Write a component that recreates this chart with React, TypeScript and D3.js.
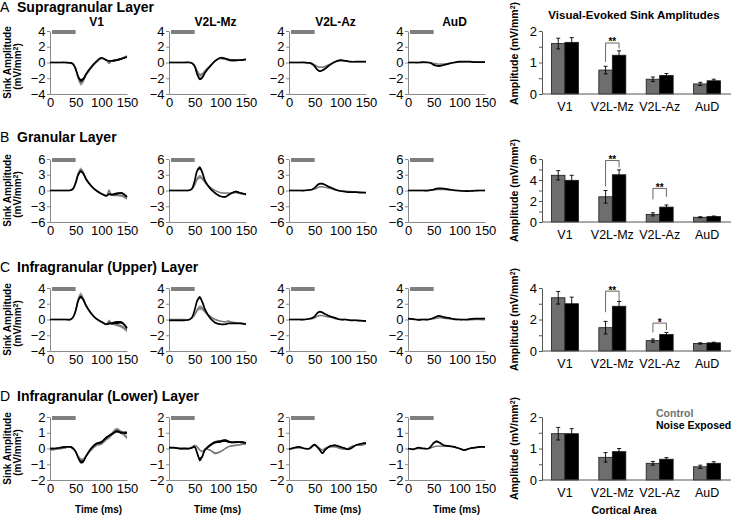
import React, { useEffect, useRef } from "react";
import * as d3 from "d3";

const times = [0, 10, 20, 30, 40, 45, 50, 55, 60, 65, 70, 80, 90, 100, 110, 115, 120, 130, 140, 150];
const areas = ["V1", "V2L-Mz", "V2L-Az", "AuD"];
const layerLetters = ["A", "B", "C", "D"];
const layerNames = ["Supragranular Layer", "Granular Layer", "Infragranular (Upper) Layer", "Infragranular (Lower) Layer"];
const traceTicks = [[-4, -2, 0, 2, 4], [-6, -3, 0, 3, 6], [-4, -2, 0, 2, 4], [-2, -1, 0, 1, 2]];
const timeTicks = [0, 50, 100, 150];
const stimulusWindow = [0, 50];

// supragranular, one array per area (V1, V2L-Mz, V2L-Az, AuD)
const supraControl = [
  [0, 0, 0, 0, -0.05, -0.2, -0.9, -2.0, -2.6, -2.3, -1.6, -0.7, 0.0, 0.5, 0.3, -0.1, 0.2, 0.3, 0.5, 0.8],
  [0, 0, 0, 0, 0, -0.1, -0.4, -1.1, -1.6, -1.5, -1.1, -0.4, 0.2, 0.5, 0.4, 0.3, 0.2, 0.2, 0.3, 0.4],
  [0, 0, 0, 0, -0.05, -0.1, -0.3, -0.5, -0.6, -0.6, -0.5, -0.2, 0.1, 0.2, 0.2, 0.15, 0.1, 0.1, 0.1, 0.1],
  [0, 0, 0, 0, 0, -0.05, -0.1, -0.15, -0.2, -0.2, -0.2, -0.1, 0, 0.05, 0.1, 0.1, 0.1, 0.05, 0.05, 0.05],
];
const supraControlSem = [
  [0.03, 0.03, 0.03, 0.03, 0.05, 0.08, 0.2, 0.3, 0.35, 0.3, 0.25, 0.15, 0.1, 0.1, 0.1, 0.12, 0.12, 0.12, 0.15, 0.15],
  [0.03, 0.03, 0.03, 0.03, 0.04, 0.06, 0.12, 0.2, 0.25, 0.22, 0.18, 0.1, 0.08, 0.08, 0.08, 0.08, 0.08, 0.08, 0.08, 0.08],
  [0.02, 0.02, 0.02, 0.02, 0.03, 0.04, 0.05, 0.06, 0.06, 0.06, 0.05, 0.04, 0.03, 0.03, 0.03, 0.03, 0.03, 0.03, 0.03, 0.03],
  [0.02, 0.02, 0.02, 0.02, 0.02, 0.02, 0.03, 0.03, 0.03, 0.03, 0.03, 0.02, 0.02, 0.02, 0.02, 0.02, 0.02, 0.02, 0.02, 0.02],
];
const supraExposed = [
  [0, 0, 0, 0, -0.05, -0.2, -0.8, -1.8, -2.3, -2.1, -1.5, -0.6, 0.1, 0.6, 0.3, 0.2, 0.2, 0.3, 0.5, 0.7],
  [0, 0, 0, 0, 0, -0.1, -0.5, -1.5, -2.1, -1.9, -1.3, -0.5, 0.2, 0.6, 0.5, 0.4, 0.3, 0.3, 0.3, 0.4],
  [0, 0, 0, 0, -0.05, -0.2, -0.5, -0.9, -1.1, -1.0, -0.8, -0.3, 0.1, 0.3, 0.2, 0.15, 0.1, 0.1, 0.1, 0.1],
  [0, 0, 0, 0.05, 0, -0.1, -0.3, -0.4, -0.45, -0.4, -0.3, -0.15, 0, 0.1, 0.1, 0.1, 0.1, 0.05, 0.05, 0.05],
];
const supraExposedSem = [
  [0.03, 0.03, 0.03, 0.03, 0.04, 0.06, 0.12, 0.18, 0.2, 0.18, 0.15, 0.1, 0.08, 0.08, 0.08, 0.08, 0.08, 0.1, 0.1, 0.1],
  [0.03, 0.03, 0.03, 0.03, 0.03, 0.05, 0.08, 0.12, 0.15, 0.14, 0.12, 0.08, 0.06, 0.06, 0.06, 0.06, 0.06, 0.06, 0.06, 0.06],
  [0.03, 0.03, 0.03, 0.03, 0.03, 0.04, 0.06, 0.08, 0.08, 0.08, 0.07, 0.05, 0.04, 0.04, 0.04, 0.04, 0.04, 0.04, 0.04, 0.04],
  [0.02, 0.02, 0.02, 0.02, 0.02, 0.03, 0.04, 0.05, 0.05, 0.05, 0.04, 0.03, 0.03, 0.03, 0.03, 0.03, 0.03, 0.03, 0.03, 0.03],
];

// granular
const granControl = [
  [0, 0, 0, 0, 0.05, 0.4, 1.6, 3.3, 4.0, 3.4, 2.3, 0.9, 0.0, -0.6, -1.0, 0.0, -0.8, -0.9, -1.0, -1.5],
  [0, 0, 0, 0, 0.05, 0.3, 1.0, 2.2, 2.6, 2.3, 1.6, 0.6, 0.0, -0.4, -0.5, -0.5, -0.5, -0.4, -0.6, -0.8],
  [0, 0, 0, 0, 0.1, 0.2, 0.3, 0.5, 0.7, 0.7, 0.6, 0.4, 0.1, -0.1, -0.2, -0.2, -0.2, -0.3, -0.3, -0.4],
  [0, 0, 0, 0, 0, 0.05, 0.1, 0.15, 0.2, 0.2, 0.2, 0.1, 0, 0, -0.05, -0.05, -0.05, 0, 0, 0],
];
const granControlSem = [
  [0.05, 0.05, 0.05, 0.05, 0.05, 0.1, 0.25, 0.35, 0.4, 0.35, 0.3, 0.2, 0.15, 0.15, 0.2, 0.3, 0.2, 0.2, 0.25, 0.3],
  [0.05, 0.05, 0.05, 0.05, 0.05, 0.08, 0.2, 0.35, 0.4, 0.35, 0.3, 0.15, 0.1, 0.1, 0.1, 0.1, 0.1, 0.1, 0.1, 0.1],
  [0.04, 0.04, 0.04, 0.04, 0.04, 0.05, 0.06, 0.08, 0.1, 0.1, 0.08, 0.06, 0.05, 0.05, 0.05, 0.05, 0.05, 0.05, 0.05, 0.05],
  [0.03, 0.03, 0.03, 0.03, 0.03, 0.03, 0.03, 0.04, 0.04, 0.04, 0.04, 0.03, 0.03, 0.03, 0.03, 0.03, 0.03, 0.03, 0.03, 0.03],
];
const granExposed = [
  [0, 0, 0, 0, 0.05, 0.3, 1.4, 3.0, 3.7, 3.2, 2.2, 0.9, 0.0, -0.6, -1.0, -0.7, -0.8, -0.6, -0.5, -1.2],
  [0, 0, 0, 0, 0.05, 0.4, 1.8, 3.8, 4.3, 3.4, 1.9, 0.4, -0.5, -1.1, -1.2, -0.9, -0.6, -0.2, -0.5, -0.7],
  [0, 0, 0, 0, 0.1, 0.2, 0.5, 1.0, 1.3, 1.3, 1.1, 0.6, 0.2, -0.1, -0.2, -0.3, -0.3, -0.3, -0.4, -0.4],
  [0, 0, 0, 0, 0, 0.1, 0.2, 0.35, 0.4, 0.4, 0.35, 0.2, 0.05, -0.05, -0.1, -0.1, -0.1, -0.05, 0, 0],
];
const granExposedSem = [
  [0.05, 0.05, 0.05, 0.05, 0.05, 0.08, 0.15, 0.2, 0.25, 0.2, 0.18, 0.12, 0.1, 0.1, 0.12, 0.15, 0.15, 0.2, 0.15, 0.15],
  [0.05, 0.05, 0.05, 0.05, 0.05, 0.08, 0.15, 0.25, 0.3, 0.25, 0.2, 0.12, 0.1, 0.1, 0.1, 0.1, 0.1, 0.15, 0.1, 0.1],
  [0.04, 0.04, 0.04, 0.04, 0.04, 0.05, 0.06, 0.1, 0.12, 0.12, 0.1, 0.08, 0.05, 0.05, 0.05, 0.05, 0.05, 0.05, 0.05, 0.05],
  [0.03, 0.03, 0.03, 0.03, 0.03, 0.03, 0.04, 0.05, 0.05, 0.05, 0.05, 0.04, 0.03, 0.03, 0.03, 0.03, 0.03, 0.03, 0.03, 0.03],
];

// infragranular upper
const upperControl = [
  [0, 0, 0, 0, 0, 0.3, 1.2, 2.6, 3.1, 2.6, 1.8, 0.8, 0.1, -0.3, -0.6, -0.2, -0.5, -0.7, -0.9, -1.4],
  [0, 0, 0, 0, 0, 0.2, 0.6, 1.2, 1.5, 1.4, 1.0, 0.4, 0.0, -0.2, -0.3, -0.2, -0.3, -0.4, -0.5, -0.6],
  [0, 0, 0, 0, 0.1, 0.1, 0.2, 0.4, 0.5, 0.5, 0.4, 0.3, 0.1, 0.0, 0, -0.05, -0.1, -0.1, -0.15, -0.2],
  [0.1, 0.05, 0, 0, 0, 0.05, 0.1, 0.15, 0.2, 0.2, 0.15, 0.1, 0, 0, -0.05, -0.05, -0.05, 0, 0, -0.05],
];
const upperControlSem = [
  [0.04, 0.04, 0.04, 0.04, 0.04, 0.08, 0.2, 0.3, 0.35, 0.3, 0.25, 0.15, 0.12, 0.12, 0.15, 0.2, 0.15, 0.15, 0.2, 0.25],
  [0.04, 0.04, 0.04, 0.04, 0.04, 0.06, 0.15, 0.25, 0.3, 0.28, 0.2, 0.12, 0.08, 0.08, 0.08, 0.1, 0.08, 0.08, 0.08, 0.08],
  [0.03, 0.03, 0.03, 0.03, 0.03, 0.04, 0.05, 0.06, 0.07, 0.07, 0.06, 0.05, 0.04, 0.04, 0.04, 0.04, 0.04, 0.04, 0.04, 0.04],
  [0.03, 0.03, 0.03, 0.03, 0.03, 0.03, 0.03, 0.04, 0.04, 0.04, 0.04, 0.03, 0.03, 0.03, 0.03, 0.03, 0.03, 0.03, 0.03, 0.03],
];
const upperExposed = [
  [0, 0, 0, 0, 0, 0.3, 1.1, 2.4, 2.9, 2.5, 1.8, 0.8, 0.1, -0.3, -0.6, -0.5, -0.5, -0.4, -0.4, -1.1],
  [-0.1, -0.1, -0.1, -0.1, 0, 0.3, 1.2, 2.4, 2.8, 2.2, 1.3, 0.2, -0.4, -0.6, -0.6, -0.5, -0.5, -0.5, -0.5, -0.6],
  [0, 0, 0, 0, 0.1, 0.2, 0.4, 0.8, 1.0, 0.9, 0.7, 0.4, 0.2, 0.0, 0, -0.05, -0.1, -0.1, -0.15, -0.2],
  [0.1, 0.05, -0.05, 0, 0, 0.1, 0.2, 0.35, 0.45, 0.4, 0.3, 0.2, 0.05, 0, 0, 0, 0.05, 0.1, 0.1, 0.1],
];
const upperExposedSem = [
  [0.04, 0.04, 0.04, 0.04, 0.04, 0.06, 0.12, 0.18, 0.2, 0.18, 0.15, 0.1, 0.08, 0.08, 0.1, 0.12, 0.15, 0.2, 0.15, 0.15],
  [0.04, 0.04, 0.04, 0.04, 0.04, 0.06, 0.1, 0.15, 0.18, 0.15, 0.12, 0.08, 0.06, 0.06, 0.06, 0.06, 0.06, 0.06, 0.06, 0.06],
  [0.03, 0.03, 0.03, 0.03, 0.03, 0.04, 0.05, 0.07, 0.08, 0.08, 0.07, 0.05, 0.04, 0.04, 0.04, 0.04, 0.04, 0.04, 0.04, 0.04],
  [0.03, 0.03, 0.03, 0.03, 0.03, 0.03, 0.04, 0.05, 0.05, 0.05, 0.04, 0.03, 0.03, 0.03, 0.03, 0.03, 0.03, 0.03, 0.03, 0.03],
];

// infragranular lower
const lowerControl = [
  [-0.1, -0.05, 0, 0.05, 0.1, 0.0, -0.2, -0.5, -0.7, -0.7, -0.5, -0.1, 0.2, 0.3, 0.6, 0.7, 0.9, 1.2, 1.0, 0.7],
  [0.05, 0.05, 0, 0, 0, 0.1, 0.2, 0.1, -0.1, -0.2, -0.05, -0.1, -0.3, -0.2, 0.0, 0.1, 0.15, 0.2, 0.25, 0.3],
  [-0.05, 0, 0.05, 0, 0, 0.1, 0.2, 0.1, 0.0, -0.1, 0.0, 0.1, 0.1, 0.0, -0.05, 0.0, 0.1, 0.2, 0.2, 0.3],
  [0, -0.05, 0, 0, 0, 0.05, 0.1, 0.15, 0.15, 0.15, 0.15, 0.15, 0.1, 0.0, -0.1, -0.05, 0.0, 0.05, 0.1, 0.1],
];
const lowerControlSem = [
  [0.06, 0.06, 0.06, 0.06, 0.06, 0.06, 0.08, 0.1, 0.1, 0.1, 0.1, 0.08, 0.08, 0.08, 0.1, 0.1, 0.12, 0.12, 0.12, 0.12],
  [0.04, 0.04, 0.04, 0.04, 0.04, 0.05, 0.06, 0.06, 0.06, 0.06, 0.06, 0.06, 0.08, 0.06, 0.05, 0.05, 0.05, 0.05, 0.05, 0.05],
  [0.03, 0.03, 0.03, 0.03, 0.03, 0.04, 0.04, 0.04, 0.04, 0.04, 0.04, 0.04, 0.04, 0.04, 0.04, 0.04, 0.04, 0.04, 0.04, 0.04],
  [0.02, 0.02, 0.02, 0.02, 0.02, 0.02, 0.02, 0.02, 0.02, 0.02, 0.02, 0.02, 0.02, 0.02, 0.02, 0.02, 0.02, 0.02, 0.02, 0.02],
];
const lowerExposed = [
  [0, 0, 0.05, 0.1, 0.1, 0.0, -0.2, -0.6, -0.85, -0.8, -0.5, 0.0, 0.3, 0.4, 0.7, 0.8, 0.9, 1.1, 1.0, 1.0],
  [0.05, 0.05, 0, 0, 0, 0.05, 0.1, -0.3, -0.7, -0.5, -0.1, 0.2, 0.4, 0.45, 0.5, 0.45, 0.4, 0.4, 0.4, 0.35],
  [-0.05, 0.05, 0.1, 0, 0, 0.15, 0.25, 0.1, -0.1, -0.3, -0.1, 0.15, 0.2, 0.1, 0.0, -0.05, 0.0, 0.2, 0.3, 0.35],
  [0, -0.05, 0.05, 0, 0, 0.15, 0.35, 0.45, 0.4, 0.3, 0.2, 0.15, 0.1, 0.0, -0.1, -0.05, 0.0, 0.05, 0.1, 0.1],
];
const lowerExposedSem = [
  [0.05, 0.05, 0.05, 0.05, 0.05, 0.05, 0.06, 0.08, 0.1, 0.1, 0.08, 0.06, 0.06, 0.08, 0.08, 0.08, 0.08, 0.08, 0.08, 0.08],
  [0.04, 0.04, 0.04, 0.04, 0.04, 0.05, 0.06, 0.1, 0.12, 0.1, 0.08, 0.08, 0.08, 0.08, 0.08, 0.08, 0.06, 0.06, 0.06, 0.06],
  [0.03, 0.03, 0.03, 0.03, 0.03, 0.04, 0.04, 0.04, 0.05, 0.05, 0.04, 0.04, 0.04, 0.04, 0.04, 0.04, 0.04, 0.04, 0.04, 0.04],
  [0.02, 0.02, 0.02, 0.02, 0.02, 0.03, 0.04, 0.05, 0.05, 0.04, 0.03, 0.03, 0.02, 0.02, 0.02, 0.02, 0.02, 0.02, 0.02, 0.02],
];

// bar charts, one row per layer, one value per area
const barControl = [[1.6, 0.76, 0.47, 0.32], [4.45, 2.4, 0.73, 0.45], [3.38, 1.48, 0.66, 0.48], [1.47, 0.72, 0.53, 0.42]];
const barControlErr = [[0.17, 0.12, 0.07, 0.05], [0.44, 0.6, 0.15, 0.05], [0.4, 0.4, 0.1, 0.04], [0.2, 0.15, 0.06, 0.05]];
const barExposed = [[1.64, 1.23, 0.59, 0.42], [3.97, 4.5, 1.42, 0.52], [3.0, 2.84, 1.05, 0.52], [1.47, 0.9, 0.66, 0.53]];
const barExposedErr = [[0.15, 0.14, 0.06, 0.05], [0.48, 0.46, 0.2, 0.05], [0.42, 0.3, 0.13, 0.04], [0.16, 0.1, 0.05, 0.05]];
const barMax = [2, 6, 4, 2];
const barLabelTicks = [[0, 1, 2], [0, 2, 4, 6], [0, 2, 4], [0, 1, 2]];
const barMinorTicks = [[0, 0.5, 1, 1.5, 2], [0, 1, 2, 3, 4, 5, 6], [0, 1, 2, 3, 4], [0, 0.5, 1, 1.5, 2]];
const brackets = [
  [{ area: 1, top: 1.62, left: 1.02, right: 1.44, label: "**" }],
  [{ area: 1, top: 5.85, left: 3.4, right: 5.2, label: "**" }, { area: 2, top: 3.2, left: 2.15, right: 2.4, label: "**" }],
  [{ area: 1, top: 3.8, left: 2.46, right: 3.14, label: "**" }, { area: 2, top: 1.77, left: 1.18, right: 1.33, label: "*" }],
  [],
];
const groups = ["Control", "Noise Exposed"];

const FONT = "'Liberation Sans', Arial, sans-serif";

const App = () => {
  const svgRef = useRef<SVGSVGElement>(null);

  useEffect(() => {
    const svg = d3.select(svgRef.current);
    svg.selectAll("*").remove();

    const rowTops = [31, 159, 288, 417];
    const titleY = [11.5, 142, 272, 401];
    const barLabelShift = [-9, 0, 0, 0];
    const plotH = 63;
    const panelLeft = [50, 169, 289, 408];
    const panelW = 77;
    const barLeft = 542;
    const barRight = 730;
    const intFmt = d3.format("d");

    const controls = [supraControl, granControl, upperControl, lowerControl];
    const controlSems = [supraControlSem, granControlSem, upperControlSem, lowerControlSem];
    const exposeds = [supraExposed, granExposed, upperExposed, lowerExposed];
    const exposedSems = [supraExposedSem, granExposedSem, upperExposedSem, lowerExposedSem];

    const txt = (g, x, y, s, size, weight = "normal", fill = "#000") =>
      g.append("text")
        .attr("x", x).attr("y", y)
        .attr("font-family", FONT)
        .attr("font-size", size)
        .attr("font-weight", weight)
        .attr("fill", fill)
        .text(s);

    layerNames.forEach((name, r) => {
      const top = rowTops[r];
      const lim = traceTicks[r][4];

      txt(svg, 0, titleY[r], layerLetters[r], 14);
      txt(svg, 17, titleY[r], name, 14, "bold");

      // y label for trace row
      const yl = svg.append("g").attr("transform", `translate(11, ${top + plotH / 2}) rotate(-90)`);
      txt(yl, 0, 0, "Sink Amplitude", 10, "bold").attr("text-anchor", "middle");
      const yl2 = txt(yl, -4, 10, "(mV/mm", 10, "bold").attr("text-anchor", "middle");
      yl2.append("tspan").attr("baseline-shift", "super").attr("font-size", 7).text("2");
      yl2.append("tspan").text(")");

      areas.forEach((area, c) => {
        const x = d3.scaleLinear().domain([0, 150]).range([panelLeft[c], panelLeft[c] + panelW]);
        const y = d3.scaleLinear().domain([-lim, lim]).range([top + plotH, top]);

        const g = svg.append("g");

        const yAxis = g.append("g")
          .attr("transform", `translate(${panelLeft[c]},0)`)
          .call(d3.axisLeft(y).tickValues(traceTicks[r]).tickFormat(intFmt)
            .tickSizeInner(3).tickSizeOuter(0).tickPadding(1.5));
        const xAxis = g.append("g")
          .attr("transform", `translate(0,${top + plotH})`)
          .call(d3.axisBottom(x).tickValues(timeTicks).tickSizeInner(0).tickSizeOuter(0).tickPadding(4));
        [yAxis, xAxis].forEach(a => {
          a.attr("font-family", FONT).attr("font-size", 13);
          a.select(".domain").attr("stroke", "#8a8a8a");
          a.selectAll(".tick line").attr("stroke", "#8a8a8a");
          a.selectAll(".tick text").attr("fill", "#000");
        });

        // stimulus bar
        g.append("line")
          .attr("x1", x(stimulusWindow[0]) + 2).attr("x2", x(stimulusWindow[1]))
          .attr("y1", y(lim) + 1).attr("y2", y(lim) + 1)
          .attr("stroke", "#7f7f7f").attr("stroke-width", 4);

        const band = (mean, sem) => d3.area<number>()
          .x((d, i) => x(times[i]))
          .y0((d, i) => y(mean[i] - sem[i]))
          .y1((d, i) => y(mean[i] + sem[i]))
          .curve(d3.curveCatmullRom.alpha(0.5))(mean);
        const line = d3.line<number>()
          .x((d, i) => x(times[i]))
          .y(d => y(d))
          .curve(d3.curveCatmullRom.alpha(0.5));

        g.append("path").attr("d", band(controls[r][c], controlSems[r][c])).attr("fill", "#a3a3a3");
        g.append("path").attr("d", band(exposeds[r][c], exposedSems[r][c])).attr("fill", "#000");
        g.append("path").attr("d", line(controls[r][c])).attr("fill", "none").attr("stroke", "#777").attr("stroke-width", 1.4);
        g.append("path").attr("d", line(exposeds[r][c])).attr("fill", "none").attr("stroke", "#000").attr("stroke-width", 1.7);

        if (r === 0) {
          txt(svg, panelLeft[c] + panelW / 2 + 8, 25.5, area, 12, "bold").attr("text-anchor", "middle");
        }
        if (r === 3) {
          txt(svg, panelLeft[c] + panelW / 2 + 10, 513, "Time (ms)", 10, "bold").attr("text-anchor", "middle");
        }
      });

      // bar chart
      const xb = d3.scaleBand().domain(areas).range([barLeft, barRight]).paddingInner(0.43).paddingOuter(0.2);
      const xs = d3.scaleBand().domain(groups).range([0, xb.bandwidth()]);
      const yb = d3.scaleLinear().domain([0, barMax[r]]).range([top + plotH, top]);
      const bg = svg.append("g");

      const byAxis = bg.append("g")
        .attr("transform", `translate(${barLeft},0)`)
        .call(d3.axisLeft(yb).tickValues(barMinorTicks[r]).tickSizeInner(3).tickSizeOuter(0)
          .tickFormat(d => (barLabelTicks[r].includes(+d) ? intFmt(d) : "")).tickPadding(2));
      byAxis.attr("font-family", FONT).attr("font-size", 13);
      byAxis.select(".domain").attr("stroke", "#555");
      byAxis.selectAll(".tick line").attr("stroke", "#555");
      byAxis.selectAll(".tick text").attr("fill", "#000");

      const series = [
        { key: groups[0], vals: barControl[r], errs: barControlErr[r], fill: "#6e6e6e" },
        { key: groups[1], vals: barExposed[r], errs: barExposedErr[r], fill: "#000" },
      ];
      series.forEach(s => {
        areas.forEach((a, i) => {
          const bx = xb(a) + xs(s.key);
          bg.append("rect")
            .attr("x", bx).attr("width", xs.bandwidth())
            .attr("y", yb(s.vals[i])).attr("height", yb(0) - yb(s.vals[i]))
            .attr("fill", s.fill).attr("stroke", "#1a1a1a").attr("stroke-width", 0.8);
          const cx = bx + xs.bandwidth() / 2;
          const eg = bg.append("g").attr("stroke", "#000").attr("stroke-width", 0.9);
          eg.append("line").attr("x1", cx).attr("x2", cx).attr("y1", yb(s.vals[i] - s.errs[i])).attr("y2", yb(s.vals[i] + s.errs[i]));
          [s.vals[i] - s.errs[i], s.vals[i] + s.errs[i]].forEach(v => {
            eg.append("line").attr("x1", cx - 2).attr("x2", cx + 2).attr("y1", yb(v)).attr("y2", yb(v));
          });
        });
      });

      const bxAxis = bg.append("g")
        .attr("transform", `translate(0,${top + plotH})`)
        .call(d3.axisBottom(xb).tickSize(0).tickPadding(8));
      bxAxis.attr("font-family", FONT).attr("font-size", 12.5);
      bxAxis.select(".domain").attr("stroke", "#555").attr("d", `M${barLeft},0H731`);
      bxAxis.selectAll(".tick text").attr("fill", "#000");

      brackets[r].forEach(b => {
        const x1 = xb(areas[b.area]) + xs(groups[0]) + xs.bandwidth() / 2;
        const x2 = xb(areas[b.area]) + xs(groups[1]) + xs.bandwidth() / 2;
        bg.append("path")
          .attr("d", `M${x1},${yb(b.left)}V${yb(b.top)}H${x2}V${yb(b.right)}`)
          .attr("fill", "none").attr("stroke", "#555").attr("stroke-width", 0.9);
        txt(bg, (x1 + x2) / 2, yb(b.top) + 2.5, b.label, 10, "bold").attr("text-anchor", "middle");
      });

      const al = svg.append("g").attr("transform", `translate(518, ${top + plotH / 2 + barLabelShift[r]}) rotate(-90)`);
      const alt = txt(al, 0, 0, "Amplitude (mV/mm", 10.5, "bold").attr("text-anchor", "middle");
      alt.append("tspan").attr("baseline-shift", "super").attr("font-size", 7).text("2");
      alt.append("tspan").text(")");
    });

    txt(svg, 634, 19, "Visual-Evoked Sink Amplitudes", 11.5, "bold").attr("text-anchor", "middle");
    txt(svg, 656, 417, "Control", 10.5, "bold", "#707070");
    txt(svg, 656, 429, "Noise Exposed", 10.5, "bold");
    txt(svg, 624, 514, "Cortical Area", 10.5, "bold").attr("text-anchor", "middle");
  }, []);

  return (
    <svg
      ref={svgRef}
      width={731}
      height={516}
      style={{ position: "absolute", left: 0, top: 0, background: "#fff" }}
    />
  );
};

export default App;
